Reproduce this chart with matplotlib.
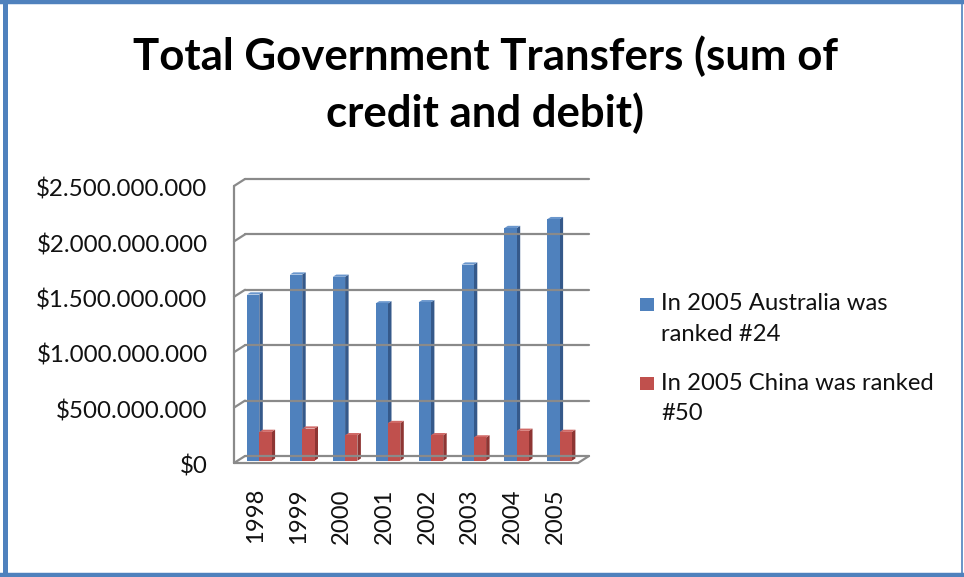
import matplotlib
matplotlib.use("Agg")
import matplotlib.pyplot as plt
from matplotlib.patches import Polygon, Rectangle
from matplotlib.lines import Line2D
from matplotlib.transforms import ScaledTranslation

# ---- data -------------------------------------------------------------
years = ["1998", "1999", "2000", "2001", "2002", "2003", "2004", "2005"]
australia = [1.50e9, 1.68e9, 1.66e9, 1.42e9, 1.43e9, 1.77e9, 2.10e9, 2.18e9]
china = [0.26e9, 0.29e9, 0.23e9, 0.34e9, 0.23e9, 0.21e9, 0.27e9, 0.26e9]
y_ticks = [0, 0.5e9, 1.0e9, 1.5e9, 2.0e9, 2.5e9]
series_labels = ["In 2005 Australia was\nranked #24",
                 "In 2005 China was ranked\n#50"]
title = "Total Government Transfers (sum of\ncredit and debit)"

# ---- styling ----------------------------------------------------------
FONT = ["Lato", "DejaVu Sans"]
plt.rcParams["font.family"] = FONT
BLUE = ("#4F81BD", "#6A96CC", "#35598A")     # front, top, side
RED = ("#C0504D", "#D06966", "#8E3533")
GRID = "#8A8A8A"
FRAME = "#4F81BD"
TXT = "#111111"

W, H, DPI = 964, 577, 100
fig = plt.figure(figsize=(W / DPI, H / DPI), dpi=DPI)

# plot box in pixel terms (from top-left of the image)
left_px, right_px, top_px, bot_px = 234, 589, 179, 463
ax = fig.add_axes([left_px / W, 1 - bot_px / H,
                   (right_px - left_px) / W, (bot_px - top_px) / H])

ppx = 42.9                 # pixels per category
ppy = 55.4 / 5e8           # pixels per dollar
x0_px = 259.3              # pixel x of first category centre
front = (-3.6, -2.3)       # front edge offset from bar plane (px)
back = (7.4, 4.7)          # back wall offset from bar plane (px)

ax.set_xlim((left_px - x0_px) / ppx, (right_px - x0_px) / ppx)
ax.set_ylim(front[1] / ppy, 2.5e9 + back[1] / ppy)


def dxp(p):
    return p / ppx


def dyp(p):
    return p / ppy


xl_front = ax.get_xlim()[0]
xl_back = xl_front + dxp(back[0] - front[0])
xr_back = ax.get_xlim()[1]
xr_front = xr_back - dxp(back[0] - front[0])

line_kw = dict(color=GRID, lw=1.6, solid_capstyle="round", clip_on=False)

# back wall and side wall gridlines
for v in y_ticks:
    yb = v + dyp(back[1])
    yf = v + dyp(front[1])
    ax.add_line(Line2D([xl_back, xr_back], [yb, yb], **line_kw))
    ax.add_line(Line2D([xl_front, xl_back], [yf, yb], **line_kw))

# side wall front edge and floor
ax.add_line(Line2D([xl_front, xl_front],
                   [dyp(front[1]), 2.5e9 + dyp(front[1])], **line_kw))
ax.add_line(Line2D([xl_front, xr_front, xr_back],
                   [dyp(front[1]), dyp(front[1]), dyp(back[1])], **line_kw))

# 3-D style columns
bar_w = 12.3 / ppx
depth_x, depth_y = dxp(3.5), dyp(2.2)


def column(xa, value, colors):
    xb = xa + bar_w
    face, top, side = colors
    ax.add_patch(Polygon([(xb, 0), (xb + depth_x, depth_y),
                          (xb + depth_x, value + depth_y), (xb, value)],
                         closed=True, fc=side, ec="none", clip_on=False))
    ax.add_patch(Polygon([(xa, value), (xb, value),
                          (xb + depth_x, value + depth_y),
                          (xa + depth_x, value + depth_y)],
                         closed=True, fc=top, ec="none", clip_on=False))
    ax.add_patch(Rectangle((xa, 0), bar_w, value, fc=face, ec="none",
                           clip_on=False))


for i, (a, c) in enumerate(zip(australia, china)):
    column(i - bar_w, a, BLUE)
    column(i, c, RED)

# axes decoration
for s in ax.spines.values():
    s.set_visible(False)
ax.tick_params(length=0)
ax.set_yticks(y_ticks)
ax.set_yticklabels([f"${v:,.0f}".replace(",", ".") for v in y_ticks],
                   fontsize=17.4, color=TXT)
ax.tick_params(axis="y", pad=19)
for lab in ax.get_yticklabels():
    lab.set_transform(lab.get_transform()
                      + ScaledTranslation(0, -4 / DPI, fig.dpi_scale_trans))

ax.set_xticks(range(len(years)))
ax.set_xticklabels(years, rotation=90, fontsize=17.2, color=TXT)
ax.tick_params(axis="x", pad=18)
for lab in ax.get_xticklabels():
    lab.set_transform(lab.get_transform()
                      + ScaledTranslation(-4 / DPI, 0, fig.dpi_scale_trans))
ax.patch.set_visible(False)

# title
fig.text(485.5 / W, 1 - 85 / H, title, ha="center", va="center",
         fontsize=31.5, fontweight="bold", linespacing=1.45, color="black")

# legend, drawn in figure pixel space
leg_entries = [(304.5, BLUE[0], series_labels[0]),
               (383.5, RED[0], series_labels[1])]
for yc, col, text in leg_entries:
    fig.patches.append(Rectangle((640 / W, 1 - (yc + 6.5) / H), 14 / W,
                                 13 / H, transform=fig.transFigure,
                                 fc=col, ec="none"))
    fig.text(661 / W, 1 - (yc - 11) / H, text, ha="left", va="top",
             fontsize=17.2, linespacing=1.55, color=TXT)

# outer frame
frame_kw = dict(color=FRAME, transform=fig.transFigure, clip_on=False)
fig.add_artist(Line2D([4.5 / W, 4.5 / W], [0, 1], lw=3.6, **frame_kw))
fig.add_artist(Line2D([0, 1], [1 - 2 / H, 1 - 2 / H], lw=3.2, **frame_kw))
fig.add_artist(Line2D([0, 1], [1 - 575 / H, 1 - 575 / H], lw=3.2, **frame_kw))
fig.add_artist(Line2D([962 / W, 962 / W], [0, 1], lw=1.2, **frame_kw))

fig.savefig("out.png", dpi=DPI)
